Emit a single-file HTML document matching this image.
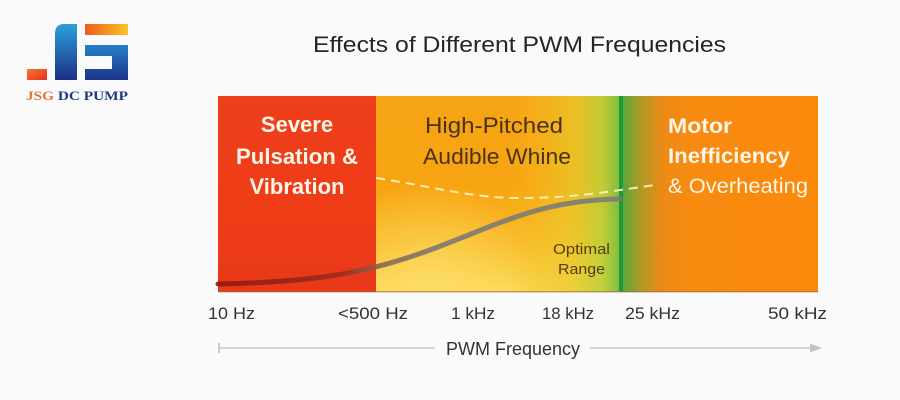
<!DOCTYPE html>
<html>
<head>
<meta charset="utf-8">
<style>
html,body{margin:0;padding:0;background:#fafafa;}
body{width:900px;height:400px;overflow:hidden;}
svg{display:block;}
</style>
</head>
<body>
<svg width="900" height="400" viewBox="0 0 900 400" xmlns="http://www.w3.org/2000/svg">
<defs>
  <linearGradient id="redV" x1="0" y1="0" x2="0" y2="1">
    <stop offset="0" stop-color="#ef3f1b"/>
    <stop offset="0.6" stop-color="#ee3c16"/>
    <stop offset="1" stop-color="#e9381a"/>
  </linearGradient>
  <linearGradient id="midV" x1="0" y1="0" x2="0" y2="1">
    <stop offset="0" stop-color="#f7a414"/>
    <stop offset="0.45" stop-color="#f7a412"/>
    <stop offset="0.75" stop-color="#f9bb2a"/>
    <stop offset="1" stop-color="#fbd955"/>
  </linearGradient>
  <linearGradient id="midH" x1="376" y1="0" x2="619" y2="0" gradientUnits="userSpaceOnUse">
    <stop offset="0" stop-color="#f3c020" stop-opacity="0"/>
    <stop offset="0.55" stop-color="#f3c020" stop-opacity="0"/>
    <stop offset="0.8" stop-color="#e7cc2c" stop-opacity="0.65"/>
    <stop offset="0.93" stop-color="#bcd038" stop-opacity="0.9"/>
    <stop offset="1" stop-color="#82bf3e" stop-opacity="1"/>
  </linearGradient>
  <linearGradient id="rightH" x1="623" y1="0" x2="818" y2="0" gradientUnits="userSpaceOnUse">
    <stop offset="0" stop-color="#58a83a"/>
    <stop offset="0.08" stop-color="#a89a28"/>
    <stop offset="0.2" stop-color="#ec8a16"/>
    <stop offset="0.35" stop-color="#f88b10"/>
    <stop offset="1" stop-color="#fa8a0c"/>
  </linearGradient>
  <linearGradient id="curveG" x1="218" y1="0" x2="620" y2="0" gradientUnits="userSpaceOnUse">
    <stop offset="0" stop-color="#8e1a10"/>
    <stop offset="0.3" stop-color="#9a2a1e"/>
    <stop offset="0.42" stop-color="#8a6a55"/>
    <stop offset="0.55" stop-color="#7d7a72"/>
    <stop offset="1" stop-color="#7e7b75"/>
  </linearGradient>
  <linearGradient id="jBlue" x1="0" y1="0" x2="0" y2="1">
    <stop offset="0" stop-color="#2da0dc"/>
    <stop offset="1" stop-color="#1b2f85"/>
  </linearGradient>
  <linearGradient id="sBlue" x1="0" y1="0" x2="0" y2="1">
    <stop offset="0" stop-color="#2580c8"/>
    <stop offset="1" stop-color="#1b3388"/>
  </linearGradient>
  <linearGradient id="orTop" x1="0" y1="0" x2="1" y2="0">
    <stop offset="0" stop-color="#f05a20"/>
    <stop offset="1" stop-color="#f8c428"/>
  </linearGradient>
  <linearGradient id="orDot" x1="0" y1="0" x2="1" y2="1">
    <stop offset="0" stop-color="#f47a28"/>
    <stop offset="1" stop-color="#e83020"/>
  </linearGradient>
  <radialGradient id="botGlow" cx="430" cy="292" r="110" gradientUnits="userSpaceOnUse">
    <stop offset="0" stop-color="#fde070" stop-opacity="0.7"/>
    <stop offset="1" stop-color="#fde070" stop-opacity="0"/>
  </radialGradient>
</defs>

<!-- logo -->
<rect x="27" y="69" width="20" height="11" fill="url(#orDot)"/>
<path d="M64,24 L77,24 L77,80 L55,80 L55,34 Q55,24 64,24 Z" fill="url(#jBlue)"/>
<rect x="85" y="24" width="43" height="11" fill="url(#orTop)"/>
<path d="M85,45 L128,45 L128,80 L85,80 L85,69 L112,69 L112,56 L85,56 Z" fill="url(#sBlue)"/>
<text x="26" y="100" font-family="Liberation Serif, serif" font-weight="bold" font-size="13" textLength="102" lengthAdjust="spacingAndGlyphs"><tspan fill="#e2763a">JSG</tspan><tspan fill="#1d3a82"> DC PUMP</tspan></text>

<!-- title -->
<text x="313" y="52" font-family="Liberation Sans, sans-serif" font-size="22" fill="#252525" textLength="413" lengthAdjust="spacingAndGlyphs">Effects of Different PWM Frequencies</text>

<!-- chart regions -->
<rect x="218" y="96" width="158" height="196" fill="url(#redV)"/>
<rect x="376" y="96" width="243" height="196" fill="url(#midV)"/>
<rect x="376" y="180" width="243" height="112" fill="url(#botGlow)"/>
<rect x="376" y="96" width="243" height="196" fill="url(#midH)"/>
<rect x="623" y="96" width="195" height="196" fill="url(#rightH)"/>
<rect x="619" y="96" width="4" height="196" fill="#1e9a3c"/>
<rect x="218" y="291" width="600" height="1.5" fill="#9a6a40" opacity="0.6"/>

<!-- dashed line -->
<path d="M376,178 C430,186 470,198 520,198 C570,198 600,193 655,185" fill="none" stroke="#fff4c0" stroke-width="2" stroke-dasharray="9 6" opacity="0.9"/>
<!-- curve -->
<path d="M218,284 C320,282 370,272 430,250 C500,224 540,200 620,199" fill="none" stroke="url(#curveG)" stroke-width="5" stroke-linecap="round" opacity="0.9"/>

<!-- region text -->
<g font-family="Liberation Sans, sans-serif" font-weight="bold" font-size="22" fill="#fff6ea" text-anchor="middle">
  <text x="297" y="132">Severe</text>
  <text x="297" y="164" textLength="122" lengthAdjust="spacingAndGlyphs">Pulsation &amp;</text>
  <text x="297" y="194">Vibration</text>
</g>
<g font-family="Liberation Sans, sans-serif" font-size="22" fill="#4a3214">
  <text x="425" y="133" textLength="138" lengthAdjust="spacingAndGlyphs">High-Pitched</text>
  <text x="423" y="164" textLength="148" lengthAdjust="spacingAndGlyphs">Audible Whine</text>
</g>
<g font-family="Liberation Sans, sans-serif" font-size="14.5" fill="#5a3a12">
  <text x="553" y="254" textLength="57" lengthAdjust="spacingAndGlyphs">Optimal</text>
  <text x="558" y="274" textLength="47" lengthAdjust="spacingAndGlyphs">Range</text>
</g>
<g font-family="Liberation Sans, sans-serif" font-size="21" fill="#fff6e8">
  <text x="668" y="133" font-weight="bold" textLength="64" lengthAdjust="spacingAndGlyphs">Motor</text>
  <text x="668" y="163" font-weight="bold" textLength="122" lengthAdjust="spacingAndGlyphs">Inefficiency</text>
  <text x="668" y="193" textLength="140" lengthAdjust="spacingAndGlyphs">&amp; Overheating</text>
</g>

<!-- tick labels -->
<g font-family="Liberation Sans, sans-serif" font-size="17" fill="#333">
  <text x="208" y="319" textLength="47" lengthAdjust="spacingAndGlyphs">10 Hz</text>
  <text x="338" y="319" textLength="70" lengthAdjust="spacingAndGlyphs">&lt;500 Hz</text>
  <text x="451" y="319" textLength="44" lengthAdjust="spacingAndGlyphs">1 kHz</text>
  <text x="542" y="319" textLength="52" lengthAdjust="spacingAndGlyphs">18 kHz</text>
  <text x="625" y="319" textLength="55" lengthAdjust="spacingAndGlyphs">25 kHz</text>
  <text x="768" y="319" textLength="59" lengthAdjust="spacingAndGlyphs">50 kHz</text>
</g>

<!-- axis -->
<line x1="219" y1="348" x2="435" y2="348" stroke="#c8c8c8" stroke-width="1.5"/>
<line x1="219" y1="343" x2="219" y2="353" stroke="#c0c0c0" stroke-width="1.5"/>
<line x1="590" y1="348" x2="812" y2="348" stroke="#c8c8c8" stroke-width="1.5"/>
<path d="M810,343.5 L822,348 L810,352.5 Z" fill="#c4c4c4"/>
<text x="446" y="355" font-family="Liberation Sans, sans-serif" font-size="18" fill="#333" textLength="134" lengthAdjust="spacingAndGlyphs">PWM Frequency</text>
</svg>
</body>
</html>
